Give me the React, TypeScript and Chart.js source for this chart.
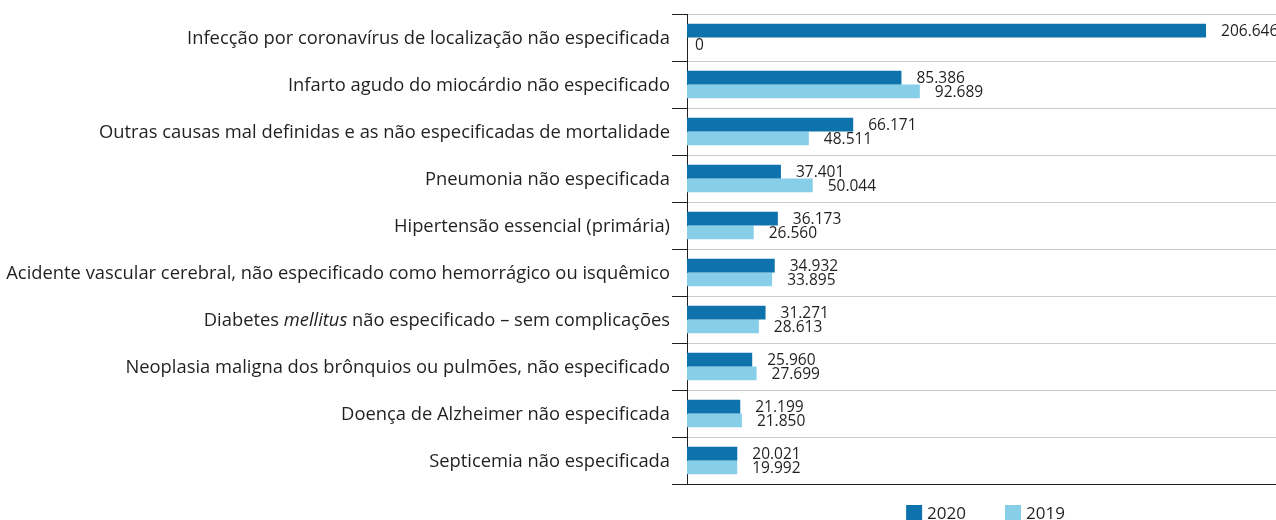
import React, { useEffect, useRef } from "react";
import { Chart, registerables } from "chart.js";

Chart.register(...registerables);

const categories: string[] = [
  "Infecção por coronavírus de localização não especificada",
  "Infarto agudo do miocárdio não especificado",
  "Outras causas mal definidas e as não especificadas de mortalidade",
  "Pneumonia não especificada",
  "Hipertensão essencial (primária)",
  "Acidente vascular cerebral, não especificado como hemorrágico ou isquêmico",
  "Diabetes mellitus não especificado – sem complicações",
  "Neoplasia maligna dos brônquios ou pulmões, não especificado",
  "Doença de Alzheimer não especificada",
  "Septicemia não especificada",
];

const values2020: number[] = [206646, 85386, 66171, 37401, 36173, 34932, 31271, 25960, 21199, 20021];
const values2019: number[] = [0, 92689, 48511, 50044, 26560, 33895, 28613, 27699, 21850, 19992];

const seriesLabels: string[] = ["2020", "2019"];
const seriesColors: string[] = ["#0e72ad", "#87cee8"];
const italicWords: string[] = ["mellitus"];

const FONT = "'Open Sans', 'Noto Sans', sans-serif";
const TEXT_COLOR = "#231f20";

function formatValue(v: number): string {
  return v.toLocaleString("pt-BR");
}

const categoryLabelPlugin = {
  id: "categoryLabels",
  afterDraw(chart: any) {
    const ctx = chart.ctx;
    const yScale = chart.scales.y;
    const xRight = chart.chartArea.left - 17;
    ctx.save();
    ctx.fillStyle = TEXT_COLOR;
    ctx.textBaseline = "middle";
    ctx.textAlign = "left";
    categories.forEach((label, i) => {
      const y = yScale.getPixelForValue(i) + 1;
      const segs: { t: string; it: boolean }[] = [];
      let rest = label;
      while (rest.length) {
        let found = -1;
        let word = "";
        for (const w of italicWords) {
          const idx = rest.indexOf(w);
          if (idx >= 0 && (found < 0 || idx < found)) {
            found = idx;
            word = w;
          }
        }
        if (found < 0) {
          segs.push({ t: rest, it: false });
          break;
        }
        if (found > 0) segs.push({ t: rest.slice(0, found), it: false });
        segs.push({ t: word, it: true });
        rest = rest.slice(found + word.length);
      }
      const fontFor = (it: boolean) => `${it ? "italic " : ""}18.35px ${FONT}`;
      let total = 0;
      segs.forEach((s) => {
        ctx.font = fontFor(s.it);
        total += ctx.measureText(s.t).width;
      });
      let x = xRight - total;
      segs.forEach((s) => {
        ctx.font = fontFor(s.it);
        ctx.fillText(s.t, x, y);
        x += ctx.measureText(s.t).width;
      });
    });
    ctx.restore();
  },
};

const valueLabelPlugin = {
  id: "valueLabels",
  afterDatasetsDraw(chart: any) {
    const ctx = chart.ctx;
    ctx.save();
    ctx.fillStyle = TEXT_COLOR;
    ctx.font = `15.5px ${FONT}`;
    ctx.textAlign = "left";
    ctx.textBaseline = "middle";
    chart.data.datasets.forEach((ds: any, di: number) => {
      const meta = chart.getDatasetMeta(di);
      meta.data.forEach((bar: any, i: number) => {
        const v = ds.data[i] as number;
        const off = v === 0 ? 8 : 15;
        ctx.fillText(formatValue(v), bar.x + off, bar.y + 1);
      });
    });
    ctx.restore();
  },
};

const customLegendPlugin = {
  id: "customLegend",
  afterDraw(chart: any) {
    const ctx = chart.ctx;
    const area = chart.chartArea;
    const box = 16;
    const gapText = 5;
    const gapItem = 39;
    ctx.save();
    ctx.font = `17px ${FONT}`;
    ctx.textBaseline = "alphabetic";
    ctx.textAlign = "left";
    const items = chart.data.datasets.map((ds: any) => ({
      label: ds.label as string,
      color: ds.backgroundColor as string,
      w: ctx.measureText(ds.label).width,
    }));
    let total = 0;
    items.forEach((it: any, i: number) => {
      total += box + gapText + it.w + (i < items.length - 1 ? gapItem : 0);
    });
    let x = (area.left + area.right) / 2 + 4 - total / 2;
    const top = area.bottom + 21;
    items.forEach((it: any) => {
      ctx.fillStyle = it.color;
      ctx.fillRect(x, top, box, box);
      x += box + gapText;
      ctx.fillStyle = TEXT_COLOR;
      ctx.fillText(it.label, x, top + 14);
      x += it.w + gapItem;
    });
    ctx.restore();
  },
};

export default function App() {
  const ref = useRef<HTMLCanvasElement | null>(null);
  useEffect(() => {
    if (!ref.current) return;
    const chart = new Chart(ref.current, {
      type: "bar",
      data: {
        labels: categories,
        datasets: [
          {
            label: seriesLabels[0],
            data: values2020,
            backgroundColor: seriesColors[0],
            categoryPercentage: 0.58,
            barPercentage: 1,
          },
          {
            label: seriesLabels[1],
            data: values2019,
            backgroundColor: seriesColors[1],
            categoryPercentage: 0.58,
            barPercentage: 1,
          },
        ],
      },
      options: {
        indexAxis: "y",
        animation: false,
        responsive: false,
        maintainAspectRatio: false,
        layout: { padding: { top: 14, left: 0, right: 0, bottom: 28 } },
        scales: {
          x: {
            min: 0,
            max: 234500,
            grid: { display: false },
            border: { display: true, color: "#231f20", width: 1 },
            ticks: { display: false },
          },
          y: {
            grid: {
              display: true,
              offset: true,
              color: "#cccccc",
              tickColor: "#231f20",
              tickLength: 15,
              lineWidth: 1,
            },
            border: { display: true, color: "#231f20", width: 1 },
            ticks: { display: false },
            afterFit(scale: any) {
              scale.width = 687;
            },
          },
        },
        plugins: {
          legend: { display: false },
          tooltip: { enabled: false },
          title: { display: false },
        },
      },
      plugins: [categoryLabelPlugin, valueLabelPlugin, customLegendPlugin],
    });
    return () => chart.destroy();
  }, []);
  return (
    <div
      style={{
        position: "fixed",
        left: 0,
        top: 0,
        width: 1276,
        height: 520,
        overflow: "hidden",
        background: "#fff",
      }}
    >
      <canvas ref={ref} width={1276} height={520} style={{ display: "block" }} />
    </div>
  );
}
